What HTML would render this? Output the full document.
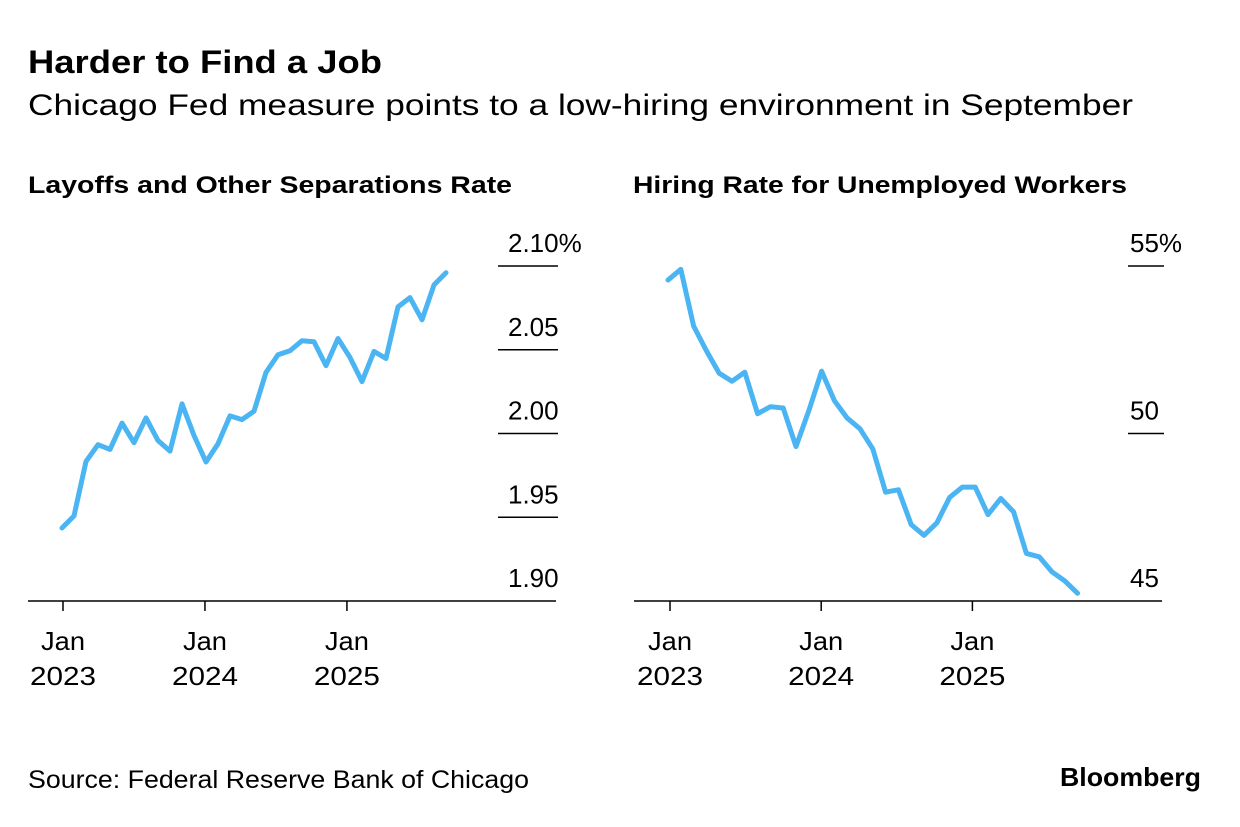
<!DOCTYPE html>
<html><head><meta charset="utf-8"><style>
body{margin:0;background:#fff;width:1240px;height:822px;overflow:hidden;font-family:"Liberation Sans",sans-serif;color:#000}
svg text{font-family:"Liberation Sans",sans-serif}
</style></head><body>
<svg width="1240" height="822">
<text x="28" y="73" font-size="32" font-weight="bold" textLength="354" lengthAdjust="spacingAndGlyphs">Harder to Find a Job</text>
<text x="28" y="115" font-size="30" textLength="1105" lengthAdjust="spacingAndGlyphs">Chicago Fed measure points to a low-hiring environment in September</text>
<text x="28" y="193" font-size="24" font-weight="bold" textLength="484" lengthAdjust="spacingAndGlyphs">Layoffs and Other Separations Rate</text>
<text x="633" y="193" font-size="24" font-weight="bold" textLength="494" lengthAdjust="spacingAndGlyphs">Hiring Rate for Unemployed Workers</text>
<g id="left"></g><g id="right"></g>
<text x="28" y="788" font-size="25" textLength="501" lengthAdjust="spacingAndGlyphs">Source: Federal Reserve Bank of Chicago</text>
<text x="1201" y="786" font-size="26" font-weight="bold" text-anchor="end" textLength="141" lengthAdjust="spacingAndGlyphs">Bloomberg</text>
</svg>
<script>
const layoffs=[1.9436,1.9508,1.9833,1.9933,1.9905,2.0062,1.9945,2.0093,1.9958,1.9895,2.0177,1.9988,1.9830,1.9939,2.0105,2.0083,2.0133,2.0365,2.0470,2.0494,2.0554,2.0548,2.0405,2.0567,2.0454,2.0310,2.0490,2.0448,2.0756,2.0811,2.0679,2.0887,2.0960];
const hiring=[54.58,54.90,53.21,52.47,51.80,51.56,51.83,50.59,50.80,50.76,49.61,50.68,51.86,50.98,50.46,50.14,49.54,48.25,48.32,47.28,46.96,47.33,48.09,48.40,48.40,47.58,48.06,47.66,46.42,46.32,45.87,45.60,45.23];
const leftTicks=[1.90,1.95,2.00,2.05,2.10];
const leftTickLabels=["1.90","1.95","2.00","2.05","2.10%"];
const rightTicks=[45,50,55];
const rightTickLabels=["45","50","55%"];
const yearMonths=[0,12,24];
const yearLabels=["2023","2024","2025"];
const NS="http://www.w3.org/2000/svg";
function mk(g,tag,attrs,text){const e=document.createElementNS(NS,tag);for(const k in attrs)e.setAttribute(k,attrs[k]);if(text!==undefined)e.textContent=text;g.appendChild(e);return e;}
function panel(gid,data,ticks,labels,cfg){
 const g=document.getElementById(gid);
 const x=i=>cfg.x0+i*cfg.step;
 const tx_=m=>cfg.t0+m*cfg.tstep;
 const y=v=>cfg.base-(v-cfg.min)/(cfg.max-cfg.min)*(cfg.base-cfg.top);
 ticks.forEach((t,i)=>{
  if(i>0){const l=mk(g,'line',{x1:cfg.gx1,x2:cfg.gx2,y1:y(t),y2:y(t),stroke:'#000','stroke-width':1.5});
  
  }
  const tx=mk(g,'text',{x:cfg.lx,y:y(t)-14,'font-size':26},labels[i]);
  
  
 });
 const b=mk(g,'line',{x1:cfg.bx1,x2:cfg.bx2,y1:cfg.base,y2:cfg.base,stroke:'#000','stroke-width':1.5});
 
 
 yearMonths.forEach((m,i)=>{
  const t=mk(g,'line',{x1:tx_(m),x2:tx_(m),y1:cfg.base,y2:cfg.base+10,stroke:'#000','stroke-width':1.5});
  
  
  const a=mk(g,'text',{x:tx_(m),y:650,'font-size':26,'text-anchor':'middle',textLength:44,lengthAdjust:'spacingAndGlyphs'},'Jan');
  
  
  const c=mk(g,'text',{x:tx_(m),y:685,'font-size':26,'text-anchor':'middle',textLength:66,lengthAdjust:'spacingAndGlyphs'},yearLabels[i]);
  
  
 });
 const p=mk(g,'polyline',{points:data.map((v,i)=>x(i)+','+y(v)).join(' '),fill:'none',stroke:'#4ab5f2','stroke-width':5,'stroke-linejoin':'round','stroke-linecap':'round'});
 
 
}
panel('left',layoffs,leftTicks,leftTickLabels,{x0:62,step:12.0,t0:63,tstep:11.83,base:601,top:266,min:1.90,max:2.10,gx1:498,gx2:558,lx:508,bx1:28,bx2:556});
panel('right',hiring,rightTicks,rightTickLabels,{x0:668,step:12.8,t0:670,tstep:12.6,base:601,top:266,min:45,max:55,gx1:1128,gx2:1164,lx:1130,bx1:634,bx2:1162});
</script>
</body></html>
